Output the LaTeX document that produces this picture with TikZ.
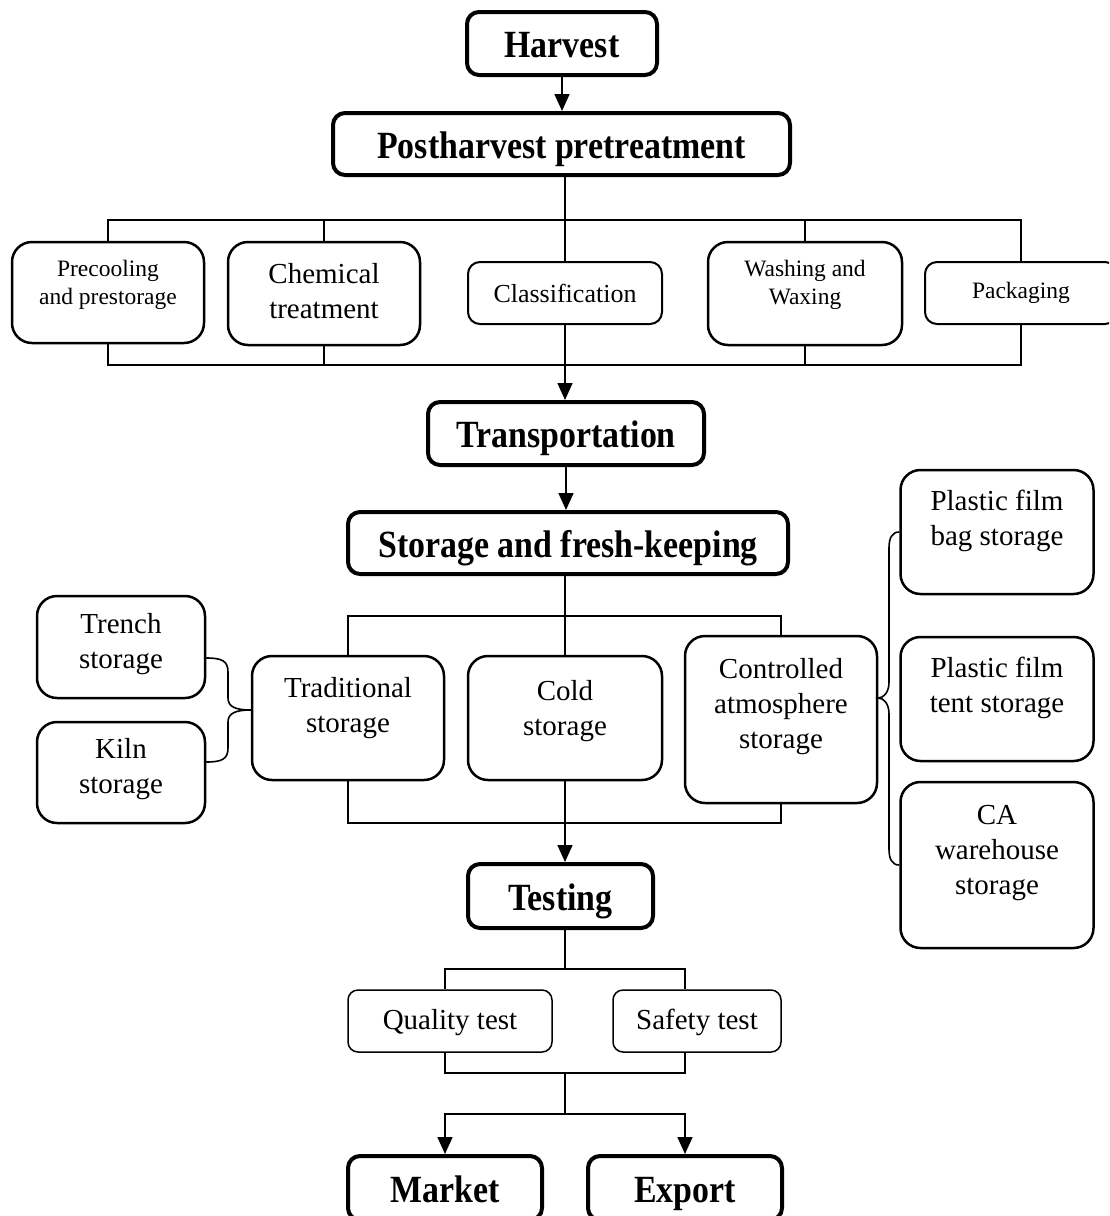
\documentclass[tikz,border=0pt]{standalone}
\usepackage{fontspec}
\setmainfont{Liberation Serif}
\newfontfamily\hbf{Liberation Serif}[FakeStretch=0.88]
\usetikzlibrary{arrows.meta,calc}
\begin{document}
\begin{tikzpicture}[x=1pt,y=-1pt,
  wh/.style 2 args={minimum width=#1pt,minimum height=#2pt},
  bbox/.style={draw,line width=4pt,rounded corners=12pt,inner sep=0pt,align=center,
    text height=30pt,text depth=2pt,
    font=\hbf\bfseries\fontsize{38.5}{40}\selectfont},
  nbox/.style={draw,line width=2.5pt,rounded corners=20pt,inner sep=0pt},
  sbox/.style={draw,line width=2pt,rounded corners=12pt,inner sep=0pt,align=center},
  tbox/.style={draw,line width=1.5pt,rounded corners=10pt,inner sep=0pt,align=center,
    text height=22pt,text depth=6pt,
    font=\fontsize{29}{35}\selectfont},
  txt/.style={align=center,inner sep=0pt},
  fA/.style={font=\fontsize{23.5}{28}\selectfont},
  fB/.style={font=\fontsize{26}{31}\selectfont},
  fC/.style={font=\fontsize{29}{35}\selectfont},
  conn/.style={line width=1.6pt},
  arr/.style={conn,-{Triangle[length=17pt,width=15pt]}}]
\useasboundingbox (0,0) rectangle (1109,1216);
\clip (0,0) rectangle (1109,1216);

% main chain
\node[bbox,wh={190}{63}] (harv) at (562,43.5) {Harvest};
\node[bbox,wh={457}{62}] (post) at (561.5,144) {Postharvest pretreatment};

% pretreatment boxes
\node[nbox,wh={192}{101}] (pre) at (108,292.5) {};
\node[txt,fA] (preT) at ([yshift=8pt]pre.center) {Precooling\\and prestorage};
\node[nbox,wh={192}{103}] (chem) at (324,293.5) {};
\node[txt,fC] (chemT) at ([yshift=2pt]chem.center) {Chemical\\treatment};
\node[sbox,wh={194}{62},fB] (cls) at (565,293) {Classification};
\node[nbox,wh={194}{103}] (wash) at (805,293.5) {};
\node[txt,fA] (washT) at ([yshift=9pt]wash.center) {Washing and\\Waxing};
\node[sbox,wh={192}{62},fA] (pk) at (1021,293) {Packaging};

\node[bbox,wh={276}{63}] (trans) at (566,433.5) {Transportation};
\node[bbox,wh={440}{62}] (stor) at (568,543) {Storage and fresh-keeping};

% storage boxes
\node[nbox,wh={168}{102}] (trench) at (121,647) {};
\node[txt,fC] (trenchT) at ([yshift=2.5pt]trench.center) {Trench\\storage};
\node[nbox,wh={168}{101}] (kiln) at (121,772.5) {};
\node[txt,fC] (kilnT) at ([yshift=3pt]kiln.center) {Kiln\\storage};
\node[nbox,wh={192}{124}] (trad) at (348,718) {};
\node[txt,fC] (tradT) at ([yshift=9.5pt]trad.center) {Traditional\\storage};
\node[nbox,wh={194}{124}] (cold) at (565,718) {};
\node[txt,fC] (coldT) at ([yshift=7pt]cold.center) {Cold\\storage};
\node[nbox,wh={192}{167}] (ctrl) at (781,719.5) {};
\node[txt,fC] (ctrlT) at ([yshift=13pt]ctrl.center) {Controlled\\atmosphere\\storage};
\node[nbox,wh={193}{124}] (bag) at (997,532) {};
\node[txt,fC] (bagT) at ([yshift=11pt]bag.center) {Plastic film\\bag storage};
\node[nbox,wh={193}{124}] (tent) at (997,699) {};
\node[txt,fC] (tentT) at ([yshift=11.5pt]tent.center) {Plastic film\\tent storage};
\node[nbox,wh={193}{166}] (ca) at (997,865) {};
\node[txt,fC] (caT) at ([yshift=12pt]ca.center) {CA\\warehouse\\storage};

\node[bbox,wh={185}{64}] (test) at (560.5,896) {Testing};
\node[tbox,wh={204}{62}] (qual) at (450,1021) {Quality test};
\node[tbox,wh={168}{62}] (saf) at (697,1021) {Safety test};
\node[bbox,wh={194}{64}] (mk) at (445,1188) {Market};
\node[bbox,wh={194}{64}] (ex) at (685,1188) {Export};

% bar levels
\coordinate (b1) at (0,220);
\coordinate (b2) at (0,365);
\coordinate (b3) at (0,616);
\coordinate (b4) at (0,823);
\coordinate (b5) at (0,969);
\coordinate (b6) at (0,1073);
\coordinate (b7) at (0,1114);

% connectors
\draw[arr] (harv.south) -- (harv.south |- post.north);
\draw[conn] (cls.north |- post.south) -- (cls.north);
\draw[conn] (pre.north) |- (pk.north |- b1) -- (pk.north);
\draw[conn] (chem.north) -- (chem.north |- b1);
\draw[conn] (wash.north) -- (wash.north |- b1);
\draw[conn] (pre.south) |- (pk.south |- b2) -- (pk.south);
\draw[conn] (chem.south) -- (chem.south |- b2);
\draw[conn] (wash.south) -- (wash.south |- b2);
\draw[arr] (cls.south) -- (cls.south |- trans.north);
\draw[arr] (trans.south) -- (trans.south |- stor.north);

\draw[conn] (cold.north |- stor.south) -- (cold.north);
\draw[conn] (trad.north) |- (ctrl.north |- b3) -- (ctrl.north);
\draw[conn] (trad.south) |- (ctrl.south |- b4) -- (ctrl.south);
\draw[arr] (cold.south) -- (cold.south |- test.north);

% left brace
\coordinate (lt) at ($(trench.east)+(0,11)$);
\coordinate (lb) at ($(kiln.east)+(0,-10.5)$);
\coordinate (ltip) at ($(trad.west)+(0,-8)$);
\draw[conn] (lt) .. controls (222,658) and (228,661) .. (228,672) -- (228,698)
  .. controls (228,707) and (236,710) .. (ltip)
  .. controls (236,710) and (228,713) .. (228,722) -- (228,748)
  .. controls (228,759) and (222,762) .. (lb);

% right brace
\coordinate (rtip) at ($(ctrl.east)+(0,-21.5)$);
\draw[conn] (bag.west) .. controls (892,532) and (889,538) .. (889,548) -- (889,682)
  .. controls (889,692) and (884,698) .. (rtip)
  .. controls (884,698) and (889,704) .. (889,714) -- (889,849)
  .. controls (889,859) and (892,865) .. (ca.west);

% testing
\draw[conn] (cold.south |- test.south) -- (cold.south |- b5);
\draw[conn] (mk.north |- qual.north) -- (mk.north |- b5) -- (ex.north |- b5) -- (ex.north |- saf.north);
\draw[conn] (mk.north |- qual.south) -- (mk.north |- b6) -- (ex.north |- b6) -- (ex.north |- saf.south);
\draw[conn] (cold.south |- b6) -- (cold.south |- b7);
\draw[arr] (cold.south |- b7) -| (mk.north);
\draw[arr] (cold.south |- b7) -| (ex.north);
\end{tikzpicture}
\end{document}
